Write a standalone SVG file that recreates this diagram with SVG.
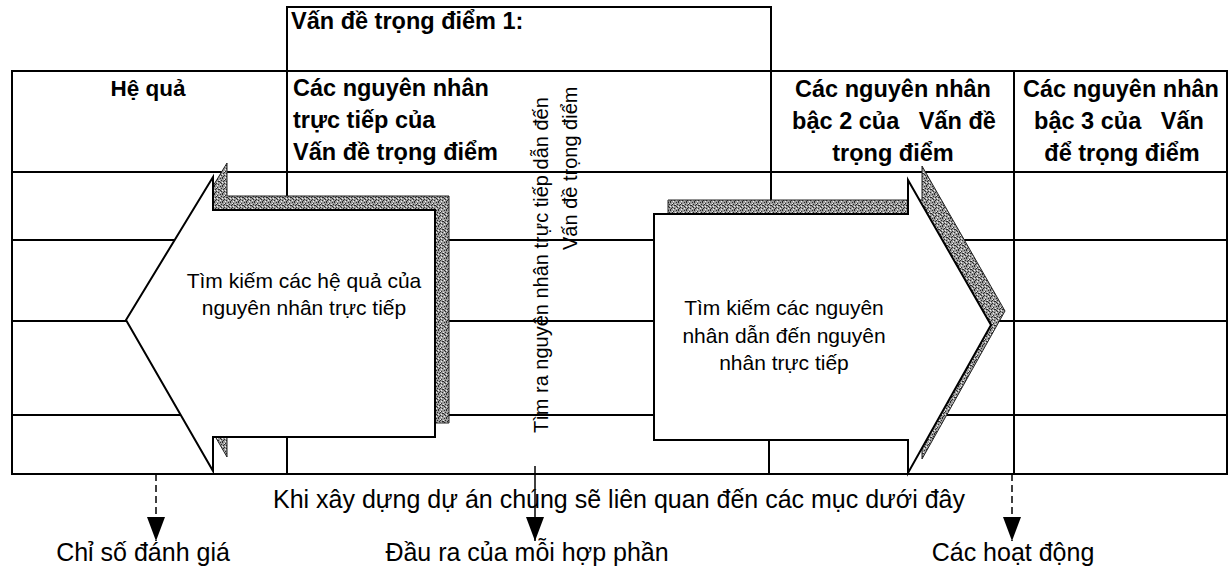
<svg xmlns="http://www.w3.org/2000/svg" width="1232" height="573" viewBox="0 0 1232 573">
<style>
.ln{stroke:#000;stroke-width:2;fill:none}
.hd{font-family:"Liberation Sans",Arial,sans-serif;font-weight:bold;font-size:23.5px;fill:#000;white-space:pre}
.tx{font-family:"Liberation Sans",Arial,sans-serif;font-size:21px;fill:#000;white-space:pre}
.vt{font-family:"Liberation Sans",Arial,sans-serif;font-size:20px;fill:#000}
.bt{font-family:"Liberation Sans",Arial,sans-serif;font-size:25px;fill:#000}
.arrow{fill:#fff;stroke:#000;stroke-width:2;stroke-linejoin:miter}
.shadow{fill:url(#grain);stroke:#222;stroke-width:1}
.conn{stroke:#000;stroke-width:1.5;fill:none}
</style>
<defs>
<pattern id="grain" width="8" height="8" patternUnits="userSpaceOnUse">
<rect width="8" height="8" fill="#9c9c9c"/>
<path d="M0 0h1v1H0zM3 1h1v1H3zM6 0h1v1H6zM1 3h1v1H1zM5 3h1v1H5zM2 5h1v1H2zM7 5h1v1H7zM4 6h1v1H4zM0 7h1v1H0zM4 3h1v1H4zM7 2h1v1H7zM2 2h1v1H2zM6 4h1v1H6zM1 6h1v1H1z" fill="#2a2a2a"/>
<path d="M2 1h1v1H2zM5 2h1v1H5zM0 4h1v1H0zM6 6h1v1H6zM3 7h1v1H3zM3 4h1v1H3z" fill="#f0f0f0"/>
</pattern>
<marker id="tri" viewBox="0 0 24 18" refX="24" refY="9" markerWidth="24" markerHeight="18" markerUnits="userSpaceOnUse" orient="auto">
<path d="M0,0 L24,9 L0,18 z" fill="#000"/>
</marker>
</defs>
<rect width="1232" height="573" fill="#fff"/>

<g id="table">
<rect x="287" y="7" width="484" height="64" class="ln"/>
<rect x="12" y="71" width="1215" height="403" class="ln"/>
<line x1="12" y1="172" x2="1227" y2="172" class="ln"/>
<line x1="12" y1="240" x2="1227" y2="240" class="ln"/>
<line x1="12" y1="321" x2="1227" y2="321" class="ln"/>
<line x1="12" y1="415" x2="1227" y2="415" class="ln"/>
<line x1="287" y1="71" x2="287" y2="474" class="ln"/>
<line x1="771" y1="71" x2="771" y2="300" class="ln"/>
<line x1="769" y1="300" x2="769" y2="474" class="ln"/>
<line x1="1014" y1="71" x2="1014" y2="474" class="ln"/>
</g>

<g id="title">
<text x="291" y="29" class="hd">Vấn đề trọng điểm 1:</text>
</g>
<g id="col-he-qua">
<text x="148" y="96" class="hd" text-anchor="middle" style="font-size:22.5px">Hệ quả</text>
</g>
<g id="col-truc-tiep">
<text x="293" y="96" class="hd">Các nguyên nhân</text>
<text x="293" y="128" class="hd">trực tiếp của</text>
<text x="293" y="160" class="hd">Vấn đề trọng điểm</text>
</g>
<g id="col-bac2">
<text x="893" y="97" class="hd" text-anchor="middle">Các nguyên nhân</text>
<text x="894" y="129" class="hd" text-anchor="middle">bậc 2 của   Vấn đề</text>
<text x="893" y="161" class="hd" text-anchor="middle">trọng điểm</text>
</g>
<g id="col-bac3">
<text x="1121" y="97" class="hd" text-anchor="middle">Các nguyên nhân</text>
<text x="1119" y="129" class="hd" text-anchor="middle">bậc 3 của   Vấn</text>
<text x="1122" y="161" class="hd" text-anchor="middle">để trọng điểm</text>
</g>

<g id="arrow-left">
<polygon class="shadow" transform="translate(14,-14)" points="126,320 213,177 213,210 435,210 435,437 213,437 213,471"/>
<polygon class="arrow" points="126,320 213,177 213,210 435,210 435,437 213,437 213,471"/>
<text x="304" y="288" class="tx" text-anchor="middle">Tìm kiếm các hệ quả của</text>
<text x="304" y="315" class="tx" text-anchor="middle">nguyên nhân trực tiếp</text>
</g>

<g id="arrow-right">
<polygon class="shadow" transform="translate(14,-14)" points="654,214 908,214 908,180 991,325 908,473 908,440 654,440"/>
<polygon class="arrow" points="654,214 908,214 908,180 991,325 908,473 908,440 654,440"/>
<text x="784" y="315" class="tx" text-anchor="middle">Tìm kiếm các nguyên</text>
<text x="784" y="343" class="tx" text-anchor="middle">nhân dẫn đến nguyên</text>
<text x="784" y="370" class="tx" text-anchor="middle">nhân trực tiếp</text>
</g>

<g id="vertical-label">
<text transform="translate(548,433) rotate(-90)" class="vt">Tìm ra nguyên nhân trực tiếp dẫn đến</text>
<text transform="translate(577,250) rotate(-90)" class="vt">Vấn đề trọng điểm</text>
</g>

<g id="connectors">
<line x1="156" y1="474" x2="156" y2="541" class="conn" stroke-dasharray="7,4" marker-end="url(#tri)"/>
<line x1="535" y1="466" x2="535" y2="541" class="conn" marker-end="url(#tri)"/>
<line x1="1012" y1="474" x2="1012" y2="541" class="conn" stroke-dasharray="7,4" marker-end="url(#tri)"/>
</g>

<g id="bottom-note">
<text x="273" y="508" class="bt">Khi xây dựng dự án chúng sẽ liên quan đến các mục dưới đây</text>
</g>
<g id="label-chi-so">
<text x="143" y="561" class="bt" text-anchor="middle">Chỉ số đánh giá</text>
</g>
<g id="label-dau-ra">
<text x="527" y="561" class="bt" text-anchor="middle">Đầu ra của mỗi hợp phần</text>
</g>
<g id="label-hoat-dong">
<text x="1013" y="561" class="bt" text-anchor="middle">Các hoạt động</text>
</g>
</svg>
